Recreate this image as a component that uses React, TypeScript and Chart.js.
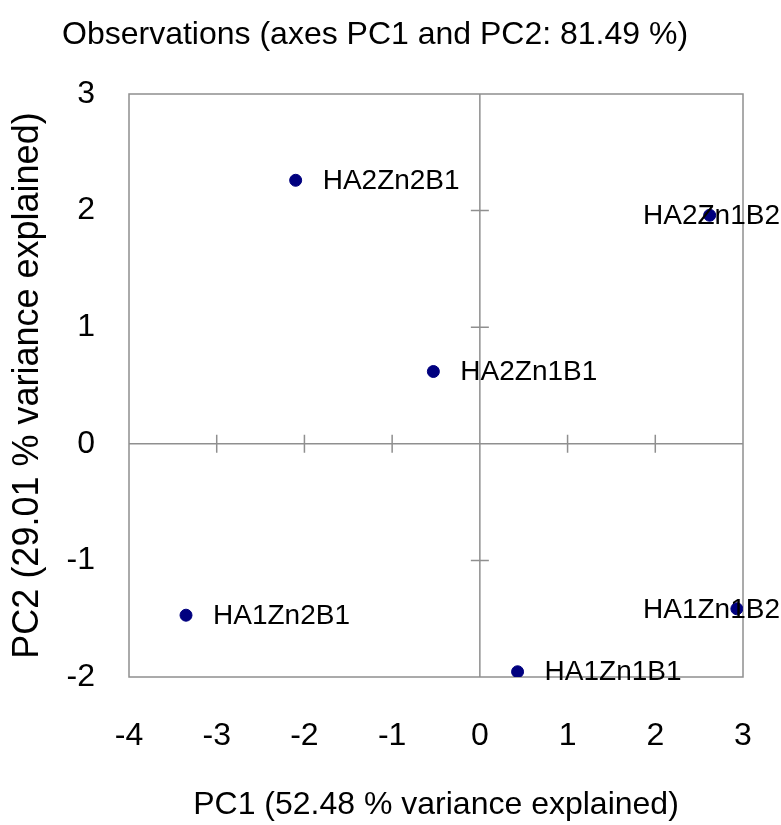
import React, { useEffect, useRef } from "react";
import { Chart, registerables } from "chart.js";

Chart.register(...registerables);

const observationNames = ["HA2Zn2B1", "HA2Zn1B2", "HA2Zn1B1", "HA1Zn2B1", "HA1Zn1B2", "HA1Zn1B1"];
const pc1Values = [-2.1, 2.62, -0.53, -3.35, 2.93, 0.43];
const pc2Values = [2.26, 1.96, 0.62, -1.47, -1.415, -1.955];

const chartTitle = "Observations (axes PC1 and PC2: 81.49 %)";
const xAxisTitle = "PC1 (52.48 % variance explained)";
const yAxisTitle = "PC2 (29.01 % variance explained)";

const FONT = "'Liberation Sans', Arial, sans-serif";
const LINE_COLOR = "#8f8f8f";

const framePlugin = {
  id: "frameAndAxes",
  beforeDatasetsDraw(chart: any) {
    const { ctx, chartArea, scales } = chart;
    const xs = scales.x;
    const ys = scales.y;
    ctx.save();
    ctx.strokeStyle = LINE_COLOR;
    ctx.lineWidth = 1.5;
    ctx.strokeRect(chartArea.left, chartArea.top, chartArea.right - chartArea.left, chartArea.bottom - chartArea.top);
    const x0 = xs.getPixelForValue(0);
    const y0 = ys.getPixelForValue(0);
    ctx.beginPath();
    ctx.moveTo(x0, chartArea.top);
    ctx.lineTo(x0, chartArea.bottom);
    ctx.moveTo(chartArea.left, y0);
    ctx.lineTo(chartArea.right, y0);
    const tk = 9;
    xs.ticks.forEach((t: any) => {
      const px = xs.getPixelForValue(t.value);
      if (px <= chartArea.left + 1 || px >= chartArea.right - 1) return;
      ctx.moveTo(px, y0 - tk);
      ctx.lineTo(px, y0 + tk);
    });
    ys.ticks.forEach((t: any) => {
      const py = ys.getPixelForValue(t.value);
      if (py <= chartArea.top + 1 || py >= chartArea.bottom - 1) return;
      ctx.moveTo(x0 - tk, py);
      ctx.lineTo(x0 + tk, py);
    });
    ctx.stroke();
    ctx.restore();
  },
  afterDatasetsDraw(chart: any) {
    const { ctx } = chart;
    const meta = chart.getDatasetMeta(0);
    ctx.save();
    ctx.font = `28px ${FONT}`;
    ctx.fillStyle = "#000";
    ctx.textAlign = "left";
    ctx.textBaseline = "middle";
    meta.data.forEach((el: any, i: number) => {
      const label = observationNames[i];
      const w = ctx.measureText(label).width;
      let lx = el.x + 27;
      if (lx + w > chart.width - 1) lx = chart.width - 1 - w;
      ctx.fillText(label, lx, el.y + 1);
    });
    ctx.restore();
  },
  afterDraw(chart: any) {
    const { ctx } = chart;
    ctx.save();
    ctx.font = `32px ${FONT}`;
    ctx.fillStyle = "#000";
    ctx.textAlign = "left";
    ctx.textBaseline = "middle";
    ctx.fillText(chartTitle, 62, 35);
    ctx.restore();
  },
};

export default function App() {
  const canvasRef = useRef<HTMLCanvasElement | null>(null);

  useEffect(() => {
    document.body.style.margin = "0";
    const canvas = canvasRef.current;
    if (!canvas) return;
    const points = pc1Values.map((x, i) => ({ x, y: pc2Values[i] }));
    const chart = new Chart(canvas, {
      type: "scatter",
      data: {
        datasets: [
          {
            label: "Observations",
            data: points,
            backgroundColor: "#00007f",
            borderColor: "#00007f",
            pointRadius: 6,
            pointHoverRadius: 6,
          },
        ],
      },
      options: {
        animation: false,
        responsive: true,
        maintainAspectRatio: false,
        layout: { padding: { top: 94, right: 38, left: 0, bottom: 0 } },
        plugins: {
          legend: { display: false },
          title: { display: false },
          tooltip: { enabled: false },
        },
        scales: {
          x: {
            type: "linear",
            min: -4,
            max: 3,
            grid: { display: false, drawTicks: false },
            border: { display: false },
            ticks: {
              stepSize: 1,
              padding: 40,
              color: "#000",
              font: { family: FONT, size: 32 },
            },
            title: {
              display: true,
              text: xAxisTitle,
              color: "#000",
              font: { family: FONT, size: 32 },
              padding: { top: 0, bottom: 1 },
            },
            afterFit(scale: any) {
              scale.height = 148;
              scale.paddingLeft = 0;
              scale.paddingRight = 0;
            },
          },
          y: {
            type: "linear",
            min: -2,
            max: 3,
            grid: { display: false, drawTicks: false },
            border: { display: false },
            ticks: {
              stepSize: 1,
              padding: 34,
              color: "#000",
              font: { family: FONT, size: 32 },
            },
            title: {
              display: true,
              text: yAxisTitle,
              color: "#000",
              font: { family: FONT, size: 36 },
              padding: { top: 6, bottom: 0 },
            },
            afterFit(scale: any) {
              scale.width = 129;
              scale.paddingTop = 0;
              scale.paddingBottom = 0;
            },
          },
        },
      },
      plugins: [framePlugin],
    });
    return () => chart.destroy();
  }, []);

  return (
    <div style={{ width: 781, height: 825, position: "relative", background: "#fff" }}>
      <canvas ref={canvasRef} />
    </div>
  );
}
